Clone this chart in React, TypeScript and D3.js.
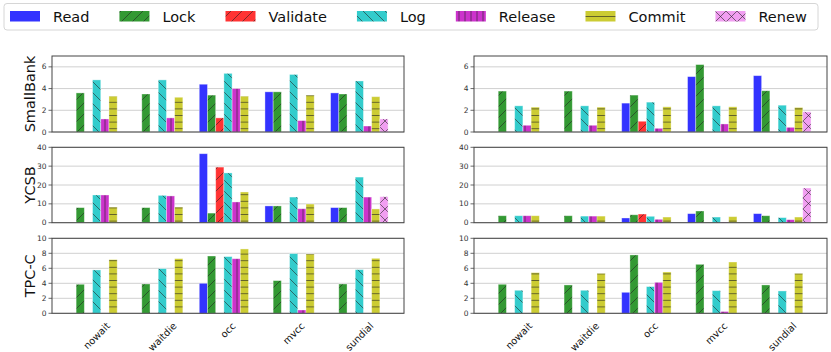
import * as d3 from "d3";
import React from "react";

// categories / series
const categories = ["nowait", "waitdie", "occ", "mvcc", "sundial"];
const seriesNames = ["Read", "Lock", "Validate", "Log", "Release", "Commit", "Renew"];
const seriesColors = ["#3333ff", "#339933", "#ff3333", "#33cccc", "#cc33cc", "#cccc33", "#f19ef1"];
const seriesHatch = ["none", "fwd", "fwd", "back", "vert", "horiz", "cross"];

const rowLabels = ["SmallBank", "YCSB", "TPC-C"];
const rowMax = [7, 40, 10];
const rowTicks = [
  [0, 2, 4, 6],
  [0, 10, 20, 30, 40],
  [0, 2, 4, 6, 8, 10],
];

// values: one row per category, columns follow seriesNames
const leftSmallBank = [
  [0, 3.6, 0, 4.8, 1.2, 3.3, 0],
  [0, 3.5, 0, 4.8, 1.3, 3.2, 0],
  [4.4, 3.4, 1.3, 5.4, 4.0, 3.3, 0],
  [3.7, 3.7, 0, 5.3, 1.05, 3.4, 0],
  [3.6, 3.5, 0, 4.7, 0.55, 3.25, 1.2],
];
const leftYCSB = [
  [0, 8, 0, 14.7, 14.7, 8.3, 0],
  [0, 8, 0, 14.5, 14.2, 8.3, 0],
  [36.6, 5.1, 29.5, 26.4, 11, 16.3, 0],
  [8.9, 8.9, 0, 13.6, 7.4, 9.9, 0],
  [8, 8, 0, 24.2, 13.6, 7.3, 13.8],
];
const leftTPCC = [
  [0, 3.87, 0, 5.78, 0, 7.16, 0],
  [0, 3.91, 0, 5.96, 0, 7.29, 0],
  [4.0, 7.64, 0, 7.56, 7.28, 8.58, 0],
  [0, 4.36, 0, 7.96, 0.44, 7.91, 0],
  [0, 3.91, 0, 5.82, 0, 7.33, 0],
];

const rightSmallBank = [
  [0, 3.77, 0, 2.41, 0.62, 2.29, 0],
  [0, 3.77, 0, 2.41, 0.62, 2.29, 0],
  [2.66, 3.4, 0.99, 2.75, 0.34, 2.32, 0],
  [5.1, 6.21, 0, 2.41, 0.74, 2.32, 0],
  [5.19, 3.8, 0, 2.47, 0.43, 2.26, 1.86],
];
const rightYCSB = [
  [0, 3.7, 0, 3.7, 3.7, 3.7, 0],
  [0, 3.7, 0, 3.5, 3.5, 3.5, 0],
  [2.5, 4.2, 4.6, 3.4, 1.8, 3.0, 0],
  [4.8, 6.2, 0, 3.0, 0.3, 3.2, 0],
  [4.8, 3.7, 0, 2.7, 1.6, 3.0, 18.4],
];
const rightTPCC = [
  [0, 3.87, 0, 3.07, 0, 5.42, 0],
  [0, 3.78, 0, 3.07, 0, 5.33, 0],
  [2.8, 7.78, 0, 3.56, 4.13, 5.51, 0],
  [0, 6.53, 0, 3.02, 0.24, 6.84, 0],
  [0, 3.78, 0, 2.98, 0, 5.33, 0],
];

const leftPanel = [leftSmallBank, leftYCSB, leftTPCC];
const rightPanel = [rightSmallBank, rightYCSB, rightTPCC];

const WIDTH = 831;
const HEIGHT = 352;
const FONT = "DejaVu Sans, Liberation Sans, sans-serif";
const panelX = [
  [52, 404],
  [474, 827],
];
const rowY = [
  [56, 132],
  [147.3, 222.7],
  [238.3, 313.3],
];
const BAR_W = 0.125;
const AXIS = "#444";

let ctx: CanvasRenderingContext2D | null = null;
function textWidth(s: string, size: number) {
  if (!ctx) ctx = document.createElement("canvas").getContext("2d");
  if (!ctx) return s.length * size * 0.6;
  ctx.font = `${size}px "DejaVu Sans"`;
  return ctx.measureText(s).width;
}

const HatchDefs = () => (
  <defs>
    {seriesNames.map((name, j) => {
      const kind = seriesHatch[j];
      const stroke = { stroke: "#222", strokeOpacity: 0.65, strokeWidth: 0.9, fill: "none" };
      let size = 11;
      let d = "";
      if (kind === "fwd") d = "M-1,1 L1,-1 M0,11 L11,0 M10,12 L12,10";
      if (kind === "back") d = "M-1,10 L1,12 M0,0 L11,11 M10,-1 L12,1";
      if (kind === "cross") d = "M-1,1 L1,-1 M0,11 L11,0 M10,12 L12,10 M-1,10 L1,12 M0,0 L11,11 M10,-1 L12,1";
      if (kind === "vert") {
        size = 6;
        d = "M3,0 L3,6";
      }
      if (kind === "horiz") {
        size = 6.6;
        d = "M0,3.3 L6.6,3.3";
      }
      return (
        <pattern key={name} id={`hatch-${j}`} width={size} height={size} patternUnits="userSpaceOnUse">
          <rect width={size} height={size} fill={seriesColors[j]} />
          {d && <path d={d} {...stroke} />}
        </pattern>
      );
    })}
  </defs>
);

const Legend = () => {
  const fs = 14.5;
  let x = 10;
  const items = seriesNames.map((name, j) => {
    const px = x;
    const tw = textWidth(name, fs);
    x = px + 43 + tw + 30;
    return (
      <g key={name}>
        <rect x={px} y={11} width={30} height={10.5} fill={`url(#hatch-${j})`} />
        <text x={px + 43} y={21.6} fontSize={fs} fontFamily={FONT} fill="#111">
          {name}
        </text>
      </g>
    );
  });
  return (
    <g>
      <rect x={4} y={3.5} width={814} height={26.5} rx={3} fill="#fff" stroke="#d6d6d6" strokeWidth={1} />
      {items}
    </g>
  );
};

const Panel = ({ values, px, row, showYLabel, showX }) => {
  const [x0, x1] = px;
  const [y0, y1] = rowY[row];
  const x = d3.scaleLinear().domain([-0.68, 4.68]).range([x0, x1]);
  const y = d3.scaleLinear().domain([0, rowMax[row]]).range([y1, y0]);
  const xfs = 9.8;

  return (
    <g>
      {rowTicks[row].map((t) => (
        <line key={`g${t}`} x1={x0} x2={x1} y1={y(t)} y2={y(t)} stroke="#d0d0d0" strokeWidth={1} />
      ))}
      {values.map((vals, i) =>
        vals.map((v, j) => {
          if (v <= 0) return null;
          const cx = x(i + (j - 3) * BAR_W);
          const bw = x(BAR_W) - x(0);
          return (
            <rect
              key={`${i}-${j}`}
              x={cx - bw / 2}
              y={y(v)}
              width={bw}
              height={y(0) - y(v)}
              fill={`url(#hatch-${j})`}
              stroke="#ffffff"
              strokeOpacity={0.45}
              strokeWidth={0.8}
            />
          );
        })
      )}
      <rect x={x0} y={y0} width={x1 - x0} height={y1 - y0} fill="none" stroke={AXIS} strokeWidth={1} />
      {rowTicks[row].map((t) => (
        <g key={`t${t}`}>
          <line x1={x0 - 3.5} x2={x0} y1={y(t)} y2={y(t)} stroke={AXIS} strokeWidth={0.8} />
          <text x={x0 - 5.5} y={y(t)} dy="0.35em" textAnchor="end" fontSize={7.5} fontFamily={FONT} fill="#333">
            {t}
          </text>
        </g>
      ))}
      {showYLabel && (
        <text
          transform={`translate(${x0 - 17},${(y0 + y1) / 2}) rotate(-90)`}
          textAnchor="middle"
          fontSize={14.5}
          fontFamily={FONT}
          fill="#111"
        >
          {rowLabels[row]}
        </text>
      )}
      {showX &&
        categories.map((c, i) => {
          const w = textWidth(c, xfs);
          const ext = (w + xfs * 1.1) / Math.SQRT2;
          const cy = y1 + 7 + ext / 2;
          return (
            <text
              key={c}
              transform={`translate(${x(i)},${cy}) rotate(-45)`}
              textAnchor="middle"
              dominantBaseline="central"
              fontSize={xfs}
              fontFamily={FONT}
              fill="#111"
            >
              {c}
            </text>
          );
        })}
    </g>
  );
};

export default function App() {
  return (
    <svg
      width={WIDTH}
      height={HEIGHT}
      viewBox={`0 0 ${WIDTH} ${HEIGHT}`}
      style={{ position: "absolute", left: 0, top: 0, background: "#fff" }}
    >
      <HatchDefs />
      <Legend />
      {rowLabels.map((_, r) => (
        <g key={r}>
          <Panel values={leftPanel[r]} px={panelX[0]} row={r} showYLabel={true} showX={r === 2} />
          <Panel values={rightPanel[r]} px={panelX[1]} row={r} showYLabel={false} showX={r === 2} />
        </g>
      ))}
    </svg>
  );
}
